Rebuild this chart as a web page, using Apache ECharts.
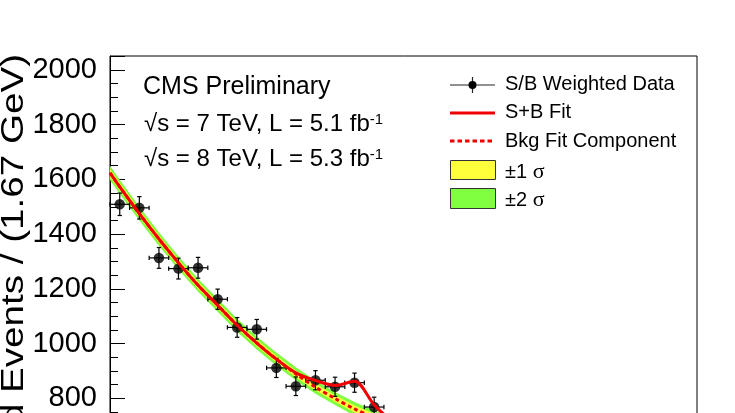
<!DOCTYPE html>
<html><head><meta charset="utf-8">
<script src="https://cdn.jsdelivr.net/npm/echarts@6/dist/echarts.min.js"></script>
<style>html,body{margin:0;padding:0;overflow:hidden;background:#fff;width:735px;height:413px}#c{width:735px;height:453px}</style>
</head><body><div id="c"></div>
<script>
// ---- data ----
const binCenters = [100.83, 102.5, 104.17, 105.83, 107.5, 109.17, 110.83, 112.5, 114.17, 115.83, 117.5, 119.17, 120.83, 122.5];
const dataValues = [1509, 1496, 1313, 1274, 1277, 1162, 1059, 1052, 911, 844, 866, 842, 857, 768];
const dataErrors = [41, 41, 38, 38, 38, 37, 36, 36, 35, 34, 35, 35, 35, 36];
const binHalfWidth = 0.833;
const fitMass = [100, 100.83, 102.5, 104.17, 105.83, 107.5, 109.17, 110.83, 112.5, 114.17, 115.83, 117.5, 119.17, 120.83, 122.5, 124.17, 125.83];
const bkgFit = [1624, 1573, 1475, 1382, 1295, 1213, 1140, 1067, 1002, 943, 889, 841, 799, 761, 730, 704, 684];
const sbFit  = [1624, 1573, 1475, 1382, 1295, 1213, 1140, 1067, 1002, 943, 893, 865, 847, 862, 776, 712, 686];
const sigma1 = [14, 14, 13, 13, 13, 13, 12, 12, 12, 12, 12, 12, 12, 13, 13, 13, 13];
const sigma2 = [26, 26, 25, 25, 24, 24, 24, 24, 24, 24, 24, 24, 24, 25, 25, 25, 25];
const yTickLabels = [800, 1000, 1200, 1400, 1600, 1800, 2000];
const legendLabels = ['S/B Weighted Data', 'S+B Fit', 'Bkg Fit Component', '\u00b11', '\u00b12'];
const yTitle = 'S/B Weighted Events / (1.67 GeV)';

const FONT = '"Liberation Sans", Arial, Helvetica, sans-serif';
const SERIF = '"Liberation Serif", "DejaVu Serif", serif';
const YELLOW = '#ffff3c', GREEN = '#80ff40', RED = '#f00000';

function bandSeries(sig, color) {
  return {
    type: 'custom', clip: true, silent: true,
    data: [[fitMass[0], bkgFit[0]]],
    renderItem: (params, api) => {
      const up = fitMass.map((m, i) => api.coord([m, bkgFit[i] + sig[i]]));
      const lo = fitMass.map((m, i) => api.coord([m, bkgFit[i] - sig[i]])).reverse();
      return { type: 'polygon', shape: { points: up.concat(lo) }, style: { fill: color, stroke: null } };
    }
  };
}

const chart = echarts.init(document.getElementById('c'), null, { renderer: 'canvas' });
chart.setOption({
  animation: false,
  backgroundColor: '#fff',
  grid: { left: 110, right: 38, top: 56, bottom: 0, show: true, borderColor: '#000', borderWidth: 1, outerBoundsMode: 'none', containLabel: false },
  xAxis: { type: 'value', min: 100, max: 150, show: false },
  yAxis: [
    { type: 'value', min: 600, max: 2051, interval: 200, position: 'left',
      axisLine: { show: true, lineStyle: { color: '#000', width: 1 } },
      axisTick: { inside: true, length: 15, lineStyle: { color: '#000', width: 1 } },
      axisLabel: { margin: 13, fontSize: 29, color: '#000', fontFamily: FONT,
        formatter: v => yTickLabels.indexOf(v) >= 0 ? String(v) : '' },
      splitLine: { show: false } },
    { type: 'value', min: 600, max: 2051, interval: 50, position: 'left',
      axisLine: { show: false },
      axisTick: { inside: true, length: 8, lineStyle: { color: '#000', width: 1 } },
      axisLabel: { show: false }, splitLine: { show: false } }
  ],
  series: [
    bandSeries(sigma2, GREEN),
    bandSeries(sigma1, YELLOW),
    { type: 'line', name: 'Bkg Fit Component', data: fitMass.map((m, i) => [m, bkgFit[i]]), smooth: 0.3,
      showSymbol: false, silent: true, lineStyle: { color: RED, width: 3, type: [4, 3] } },
    { type: 'line', name: 'S+B Fit', data: fitMass.map((m, i) => [m, sbFit[i]]), smooth: 0.3,
      showSymbol: false, silent: true, lineStyle: { color: RED, width: 3 } },
    { type: 'custom', name: 'errors', silent: true,
      data: binCenters.map((m, i) => [m, dataValues[i], dataErrors[i]]),
      encode: { x: 0, y: 1 },
      renderItem: (params, api) => {
        const x = api.value(0), y = api.value(1), e = api.value(2);
        const c = api.coord([x, y]);
        const t = api.coord([x, y + e]), b = api.coord([x, y - e]);
        const l = api.coord([x - binHalfWidth, y]), r = api.coord([x + binHalfWidth, y]);
        const s = 2.2;
        const st = { stroke: '#000', lineWidth: 1.2 };
        const ln = (x1, y1, x2, y2) => ({ type: 'line', shape: { x1, y1, x2, y2 }, style: st });
        return { type: 'group', children: [
          ln(c[0], t[1], c[0], b[1]), ln(l[0], c[1], r[0], c[1]),
          ln(c[0] - s, t[1], c[0] + s, t[1]), ln(c[0] - s, b[1], c[0] + s, b[1]),
          ln(l[0], c[1] - s, l[0], c[1] + s), ln(r[0], c[1] - s, r[0], c[1] + s)
        ] };
      } },
    { type: 'scatter', name: 'S/B Weighted Data', data: binCenters.map((m, i) => [m, dataValues[i]]),
      symbol: 'circle', symbolSize: 10.5, itemStyle: { color: '#000' }, silent: true }
  ],
  graphic: [
    { type: 'text', x: 14, y: 54, rotation: Math.PI / 2, scaleX: 1.245, silent: true,
      style: { text: yTitle, fontSize: 31, fontFamily: FONT, fill: '#000', align: 'right', verticalAlign: 'middle' } },
    { type: 'text', x: 143, y: 87, silent: true,
      style: { text: 'CMS Preliminary', fontSize: 25, fontFamily: FONT, fill: '#000', verticalAlign: 'middle' } },
    { type: 'text', x: 144, y: 124, silent: true,
      style: { text: '{a|\u221as = 7 TeV, L = 5.1 fb}{b|-1}', verticalAlign: 'middle',
        rich: { a: { fontSize: 24, fontFamily: FONT, fill: '#000' }, b: { fontSize: 15, fontFamily: FONT, fill: '#000', verticalAlign: 'top' } } } },
    { type: 'text', x: 144, y: 159, silent: true,
      style: { text: '{a|\u221as = 8 TeV, L = 5.3 fb}{b|-1}', verticalAlign: 'middle',
        rich: { a: { fontSize: 24, fontFamily: FONT, fill: '#000' }, b: { fontSize: 15, fontFamily: FONT, fill: '#000', verticalAlign: 'top' } } } },
    // legend
    { type: 'line', shape: { x1: 450, y1: 85, x2: 495, y2: 85 }, style: { stroke: '#222', lineWidth: 1 }, silent: true },
    { type: 'line', shape: { x1: 472.5, y1: 77, x2: 472.5, y2: 93 }, style: { stroke: '#222', lineWidth: 1.2 }, silent: true },
    { type: 'circle', shape: { cx: 472.5, cy: 85, r: 4 }, style: { fill: '#000' }, silent: true },
    { type: 'line', shape: { x1: 450, y1: 113, x2: 495, y2: 113 }, style: { stroke: RED, lineWidth: 3 }, silent: true },
    { type: 'line', shape: { x1: 450, y1: 141, x2: 495, y2: 141 }, style: { stroke: RED, lineWidth: 3, lineDash: [4.5, 3] }, silent: true },
    { type: 'rect', shape: { x: 450.5, y: 160.5, width: 45, height: 19 }, style: { fill: YELLOW, stroke: '#333', lineWidth: 1 }, silent: true },
    { type: 'rect', shape: { x: 450.5, y: 188.5, width: 45, height: 20 }, style: { fill: GREEN, stroke: '#333', lineWidth: 1 }, silent: true },
    { type: 'text', x: 505, y: 84, silent: true, style: { text: legendLabels[0], fontSize: 20, fontFamily: FONT, fill: '#000', verticalAlign: 'middle' } },
    { type: 'text', x: 505, y: 112.5, silent: true, style: { text: legendLabels[1], fontSize: 20, fontFamily: FONT, fill: '#000', verticalAlign: 'middle' } },
    { type: 'text', x: 505, y: 141, silent: true, style: { text: legendLabels[2], fontSize: 20, fontFamily: FONT, fill: '#000', verticalAlign: 'middle' } },
    { type: 'text', x: 505, y: 172, silent: true, style: { text: '{a|' + legendLabels[3] + ' }{s|\u03c3}', verticalAlign: 'middle',
        rich: { a: { fontSize: 20, fontFamily: FONT, fill: '#000' }, s: { fontSize: 22, fontFamily: SERIF, fill: '#000' } } } },
    { type: 'text', x: 505, y: 200, silent: true, style: { text: '{a|' + legendLabels[4] + ' }{s|\u03c3}', verticalAlign: 'middle',
        rich: { a: { fontSize: 20, fontFamily: FONT, fill: '#000' }, s: { fontSize: 22, fontFamily: SERIF, fill: '#000' } } } }
  ]
});
</script></body></html>
